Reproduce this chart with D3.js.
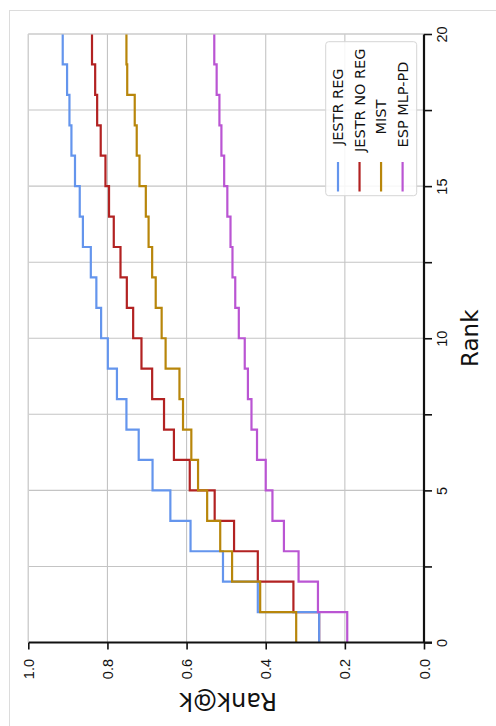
<!DOCTYPE html>
<html>
<head>
<meta charset="utf-8">
<script src="https://cdn.jsdelivr.net/npm/d3@7"></script>
<style>
  html, body { margin: 0; padding: 0; background: #ffffff; }
  svg { display: block; font-family: "DejaVu Sans", sans-serif; }
</style>
</head>
<body>
<svg id="chart" width="496" height="726"></svg>
<script>
// ---- data ----
const seriesNames = ["JESTR REG", "JESTR NO REG", "MIST", "ESP MLP-PD"];
const seriesColors = ["#6495ed", "#b22222", "#b8860b", "#ba55d3"];
const ranks = d3.range(0, 20); // band start ranks 0..19
const jestrReg   = [0.265, 0.420, 0.508, 0.590, 0.641, 0.686, 0.721, 0.752, 0.776, 0.799, 0.816, 0.828, 0.842, 0.862, 0.870, 0.882, 0.891, 0.896, 0.902, 0.913];
const jestrNoReg = [0.265, 0.330, 0.420, 0.480, 0.529, 0.592, 0.632, 0.657, 0.687, 0.714, 0.735, 0.751, 0.767, 0.784, 0.796, 0.805, 0.817, 0.826, 0.831, 0.839];
const mist       = [0.323, 0.414, 0.485, 0.515, 0.548, 0.571, 0.588, 0.609, 0.618, 0.653, 0.663, 0.678, 0.687, 0.696, 0.703, 0.719, 0.726, 0.731, 0.750, 0.752];
const espMlpPd   = [0.194, 0.268, 0.317, 0.354, 0.383, 0.400, 0.422, 0.436, 0.445, 0.453, 0.468, 0.477, 0.484, 0.489, 0.497, 0.505, 0.512, 0.517, 0.524, 0.530];
const rankTicks = [0, 2.5, 5, 7.5, 10, 12.5, 15, 17.5, 20];
const rankLabeled = [0, 5, 10, 15, 20];
const valueTicks = [0, 0.2, 0.4, 0.6, 0.8, 1.0];
const rankTitle = "Rank";
const valueTitle = "Rank@k";

const allValues = [jestrReg, jestrNoReg, mist, espMlpPd];
const drawOrder = [1, 0, 2, 3];

// ---- layout (chart shown rotated 90° counter-clockwise) ----
const svg = d3.select("#chart");
const plotLeft = 28.3, plotRight = 424, plotTop = 34, plotBottom = 642.5;

// outer frame
svg.append("rect")
  .attr("x", 9.5).attr("y", 10.5).attr("width", 600).attr("height", 800)
  .attr("fill", "#ffffff").attr("stroke", "#dcdcdc").attr("stroke-width", 1);

const yRank = d3.scaleLinear().domain([0, 20]).range([plotBottom, plotTop]);
const xVal = d3.scaleLinear().domain([0, 1]).range([plotRight, plotLeft]);

// grid
const grid = svg.append("g");
grid.selectAll("line.h").data(rankTicks).join("line")
  .attr("x1", plotLeft).attr("x2", plotRight)
  .attr("y1", d => yRank(d)).attr("y2", d => yRank(d))
  .attr("stroke", "#c4c4c4").attr("stroke-width", 1.1);
grid.selectAll("line.v").data(valueTicks).join("line")
  .attr("x1", d => xVal(d)).attr("x2", d => xVal(d))
  .attr("y1", plotTop).attr("y2", plotBottom)
  .attr("stroke", "#c4c4c4").attr("stroke-width", 1.1);

// series lines
const line = d3.line()
  .x(d => xVal(d.v))
  .y(d => yRank(d.r))
  .curve(d3.curveStepBefore);

drawOrder.forEach(i => {
  const vals = allValues[i];
  const pts = ranks.map((r, k) => ({ r: r, v: vals[k] }));
  pts.push({ r: 20, v: vals[vals.length - 1] });
  svg.append("path")
    .attr("d", line(pts))
    .attr("fill", "none")
    .attr("stroke", seriesColors[i])
    .attr("stroke-width", 2.2)
    .attr("stroke-linejoin", "miter");
});

// rank axis (right side)
const rankAxis = d3.axisRight(yRank)
  .tickValues(rankTicks)
  .tickSize(8)
  .tickFormat(d => rankLabeled.includes(d) ? d3.format("d")(d) : "");
const ra = svg.append("g").attr("transform", `translate(${plotRight},0)`).call(rankAxis);
ra.select(".domain").attr("stroke", "#111").attr("stroke-width", 2.2).attr("d", `M0,${plotTop}V${plotBottom}`);
ra.selectAll(".tick line").attr("stroke", "#111").attr("stroke-width", 1.6);
ra.selectAll(".tick text")
  .attr("x", null).attr("dy", null)
  .attr("transform", "translate(13,0) rotate(-90)")
  .attr("text-anchor", "middle")
  .attr("dominant-baseline", "hanging")
  .attr("font-size", 14.5)
  .attr("fill", "#111");

// value axis (bottom)
const valueAxis = d3.axisBottom(xVal)
  .tickValues(valueTicks)
  .tickSize(7)
  .tickFormat(d3.format(".1f"));
const va = svg.append("g").attr("transform", `translate(0,${plotBottom})`).call(valueAxis);
va.select(".domain").attr("stroke", "#111").attr("stroke-width", 2.2).attr("d", `M${plotLeft},0H${plotRight + 8}`);
va.selectAll(".tick line").attr("stroke", "#111").attr("stroke-width", 1.6);
va.selectAll(".tick text")
  .attr("y", null).attr("dy", null)
  .attr("transform", "translate(0,16.5) rotate(-90)")
  .attr("text-anchor", "end")
  .attr("dominant-baseline", "central")
  .attr("font-size", 14.5)
  .attr("fill", "#111");

// top/left plot border
svg.append("line").attr("x1", plotLeft).attr("x2", plotRight).attr("y1", plotTop).attr("y2", plotTop)
  .attr("stroke", "#d0d0d0").attr("stroke-width", 1.1);
svg.append("line").attr("x1", plotLeft).attr("x2", plotLeft).attr("y1", plotTop).attr("y2", plotBottom)
  .attr("stroke", "#d0d0d0").attr("stroke-width", 1.1);

// axis titles
svg.append("text")
  .attr("transform", `translate(470,${(plotTop + plotBottom) / 2 + 0}) rotate(-90)`)
  .attr("text-anchor", "middle").attr("dominant-baseline", "central")
  .attr("font-size", 23).attr("fill", "#111").text(rankTitle);
svg.append("text")
  .attr("transform", `translate(${(plotLeft + plotRight) / 2 + 2},701) rotate(180)`)
  .attr("text-anchor", "middle").attr("dominant-baseline", "central")
  .attr("font-size", 24).attr("fill", "#111").text(valueTitle);

// legend
const lg = svg.append("g");
lg.append("rect")
  .attr("x", 325.7).attr("y", 41.7).attr("width", 91).attr("height", 154)
  .attr("rx", 3).attr("fill", "#ffffff").attr("fill-opacity", 0.85)
  .attr("stroke", "#d6d6d6").attr("stroke-width", 1);
const legendX = d3.scalePoint().domain(seriesNames).range([338, 402.6]);
seriesNames.forEach((name, i) => {
  const cx = legendX(name);
  lg.append("line")
    .attr("x1", cx).attr("x2", cx).attr("y1", 162).attr("y2", 191.5)
    .attr("stroke", seriesColors[i]).attr("stroke-width", 2.2);
  const t = lg.append("text")
    .attr("text-anchor", "start").attr("dominant-baseline", "central")
    .attr("font-size", 14.5).attr("fill", "#111").text(name);
  const len = t.node().getComputedTextLength();
  const startY = 125.5 + 0.256 * len;
  t.attr("transform", `translate(${cx},${startY}) rotate(-90)`);
});
</script>
</body>
</html>
